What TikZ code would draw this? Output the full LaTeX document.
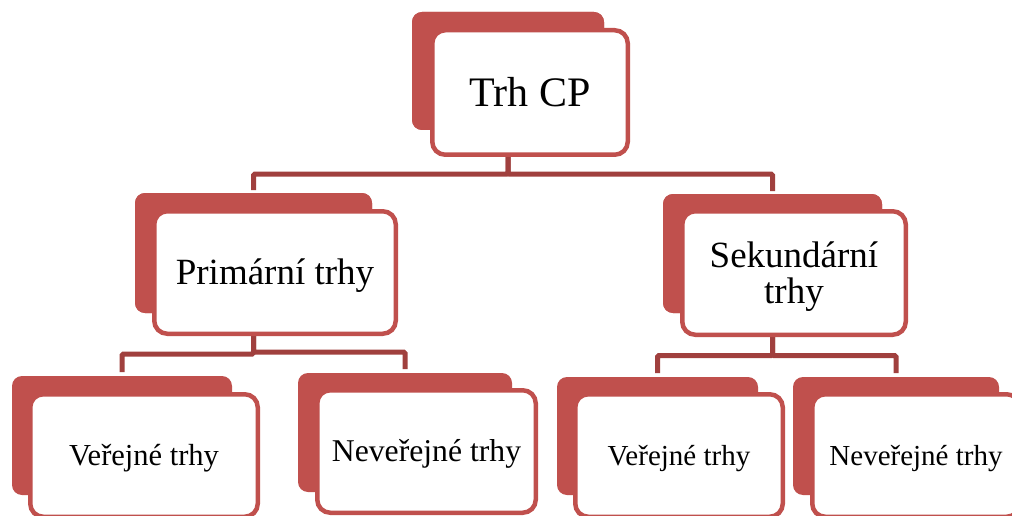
\documentclass[tikz,border=0pt]{standalone}
\usepackage{fontspec}
\setmainfont{Liberation Serif}
\definecolor{tabred}{HTML}{C0504D}
\definecolor{linkred}{HTML}{A0403E}
\begin{document}
\begin{tikzpicture}[x=1pt,y=-1pt,
  tab/.style={fill=tabred, draw=none, rounded corners=10pt, inner sep=0pt, outer sep=0pt},
  card/.style={fill=white, draw=tabred, line width=4.5pt, rounded corners=13pt,
    inner sep=0pt, outer sep=0pt, align=center, text=black},
  conn/.style={draw=linkred, line width=5pt, rounded corners=1.5pt},
  % font size and cap height, so that the capitals sit centred in the card
  fs/.style 2 args={font=\fontsize{#1}{#1}\selectfont, text height=#2, text depth=0pt}]
\clip (0,0) rectangle (1012,516);
\fill[white] (0,0) rectangle (1012,516);

% tabs behind the cards
\node[tab, minimum width=192pt, minimum height=118pt] (tTop) at (508,71) {};
\node[tab, minimum width=237pt, minimum height=120pt] (tPri) at (253.5,253) {};
\node[tab, minimum width=219pt, minimum height=119pt] (tSek) at (772.5,253.5) {};
\node[tab, minimum width=220pt, minimum height=119pt] (tPV) at (122,435.5) {};
\node[tab, minimum width=214pt, minimum height=119pt] (tPN) at (405,432.5) {};
\node[tab, minimum width=201pt, minimum height=118pt] (tSV) at (657.5,436) {};
\node[tab, minimum width=206pt, minimum height=118pt] (tSN) at (896,436) {};

% connector elbows
\coordinate (m1) at (0,174);
\coordinate (m2) at (0,354);
\coordinate (m2b) at (0,352);
\coordinate (m3) at (0,355.5);
\draw[conn] (tTop.south) |- (tPri.north |- m1) -- ([yshift=3pt]tPri.north);
\draw[conn] (tTop.south) |- (tSek.north |- m1) -- ([yshift=3pt]tSek.north);
\draw[conn] (tPri.south) |- (tPV.north |- m2) -- ([yshift=4pt]tPV.north);
\draw[conn] (tPri.south) |- (tPN.north |- m2b) -- ([yshift=4pt]tPN.north);
\draw[conn] (tSek.south) |- (tSV.north |- m3) -- ([yshift=4pt]tSV.north);
\draw[conn] (tSek.south) |- (tSN.north |- m3) -- ([yshift=4pt]tSN.north);

% tabs of the upper levels again, over the stems
\node[tab, minimum width=192pt, minimum height=118pt] at (tTop) {};
\node[tab, minimum width=237pt, minimum height=120pt] at (tPri) {};
\node[tab, minimum width=219pt, minimum height=119pt] at (tSek) {};

% white cards with the labels
\node[card, minimum width=195.5pt, minimum height=124.5pt, fs={42}{27.7pt}] (cTop) at (530,92.5) {Trh CP};
\node[card, minimum width=241.5pt, minimum height=122.5pt, fs={37}{24.4pt}] (cPri) at (275,272.5) {Primární trhy};
\node[card, minimum width=223.5pt, minimum height=123.5pt,
  font=\fontsize{37}{36}\selectfont, text height=60.4pt, text depth=0pt] (cSek) at (794,273) {Sekundární\\trhy};
\node[card, minimum width=227.5pt, minimum height=122.5pt, fs={30.5}{20.1pt}] (cPV) at (144,455.5) {Veřejné trhy};
\node[card, minimum width=218.5pt, minimum height=122.5pt, fs={31.7}{20.9pt}] (cPN) at (426.5,451.5) {Neveřejné trhy};
\node[card, minimum width=207.5pt, minimum height=122.5pt, fs={29}{19.1pt}] (cSV) at (679,455.5) {Veřejné trhy};
\node[card, minimum width=207.5pt, minimum height=122.5pt, fs={29}{19.1pt}] (cSN) at (916,455.5) {Neveřejné trhy};
\end{tikzpicture}
\end{document}
